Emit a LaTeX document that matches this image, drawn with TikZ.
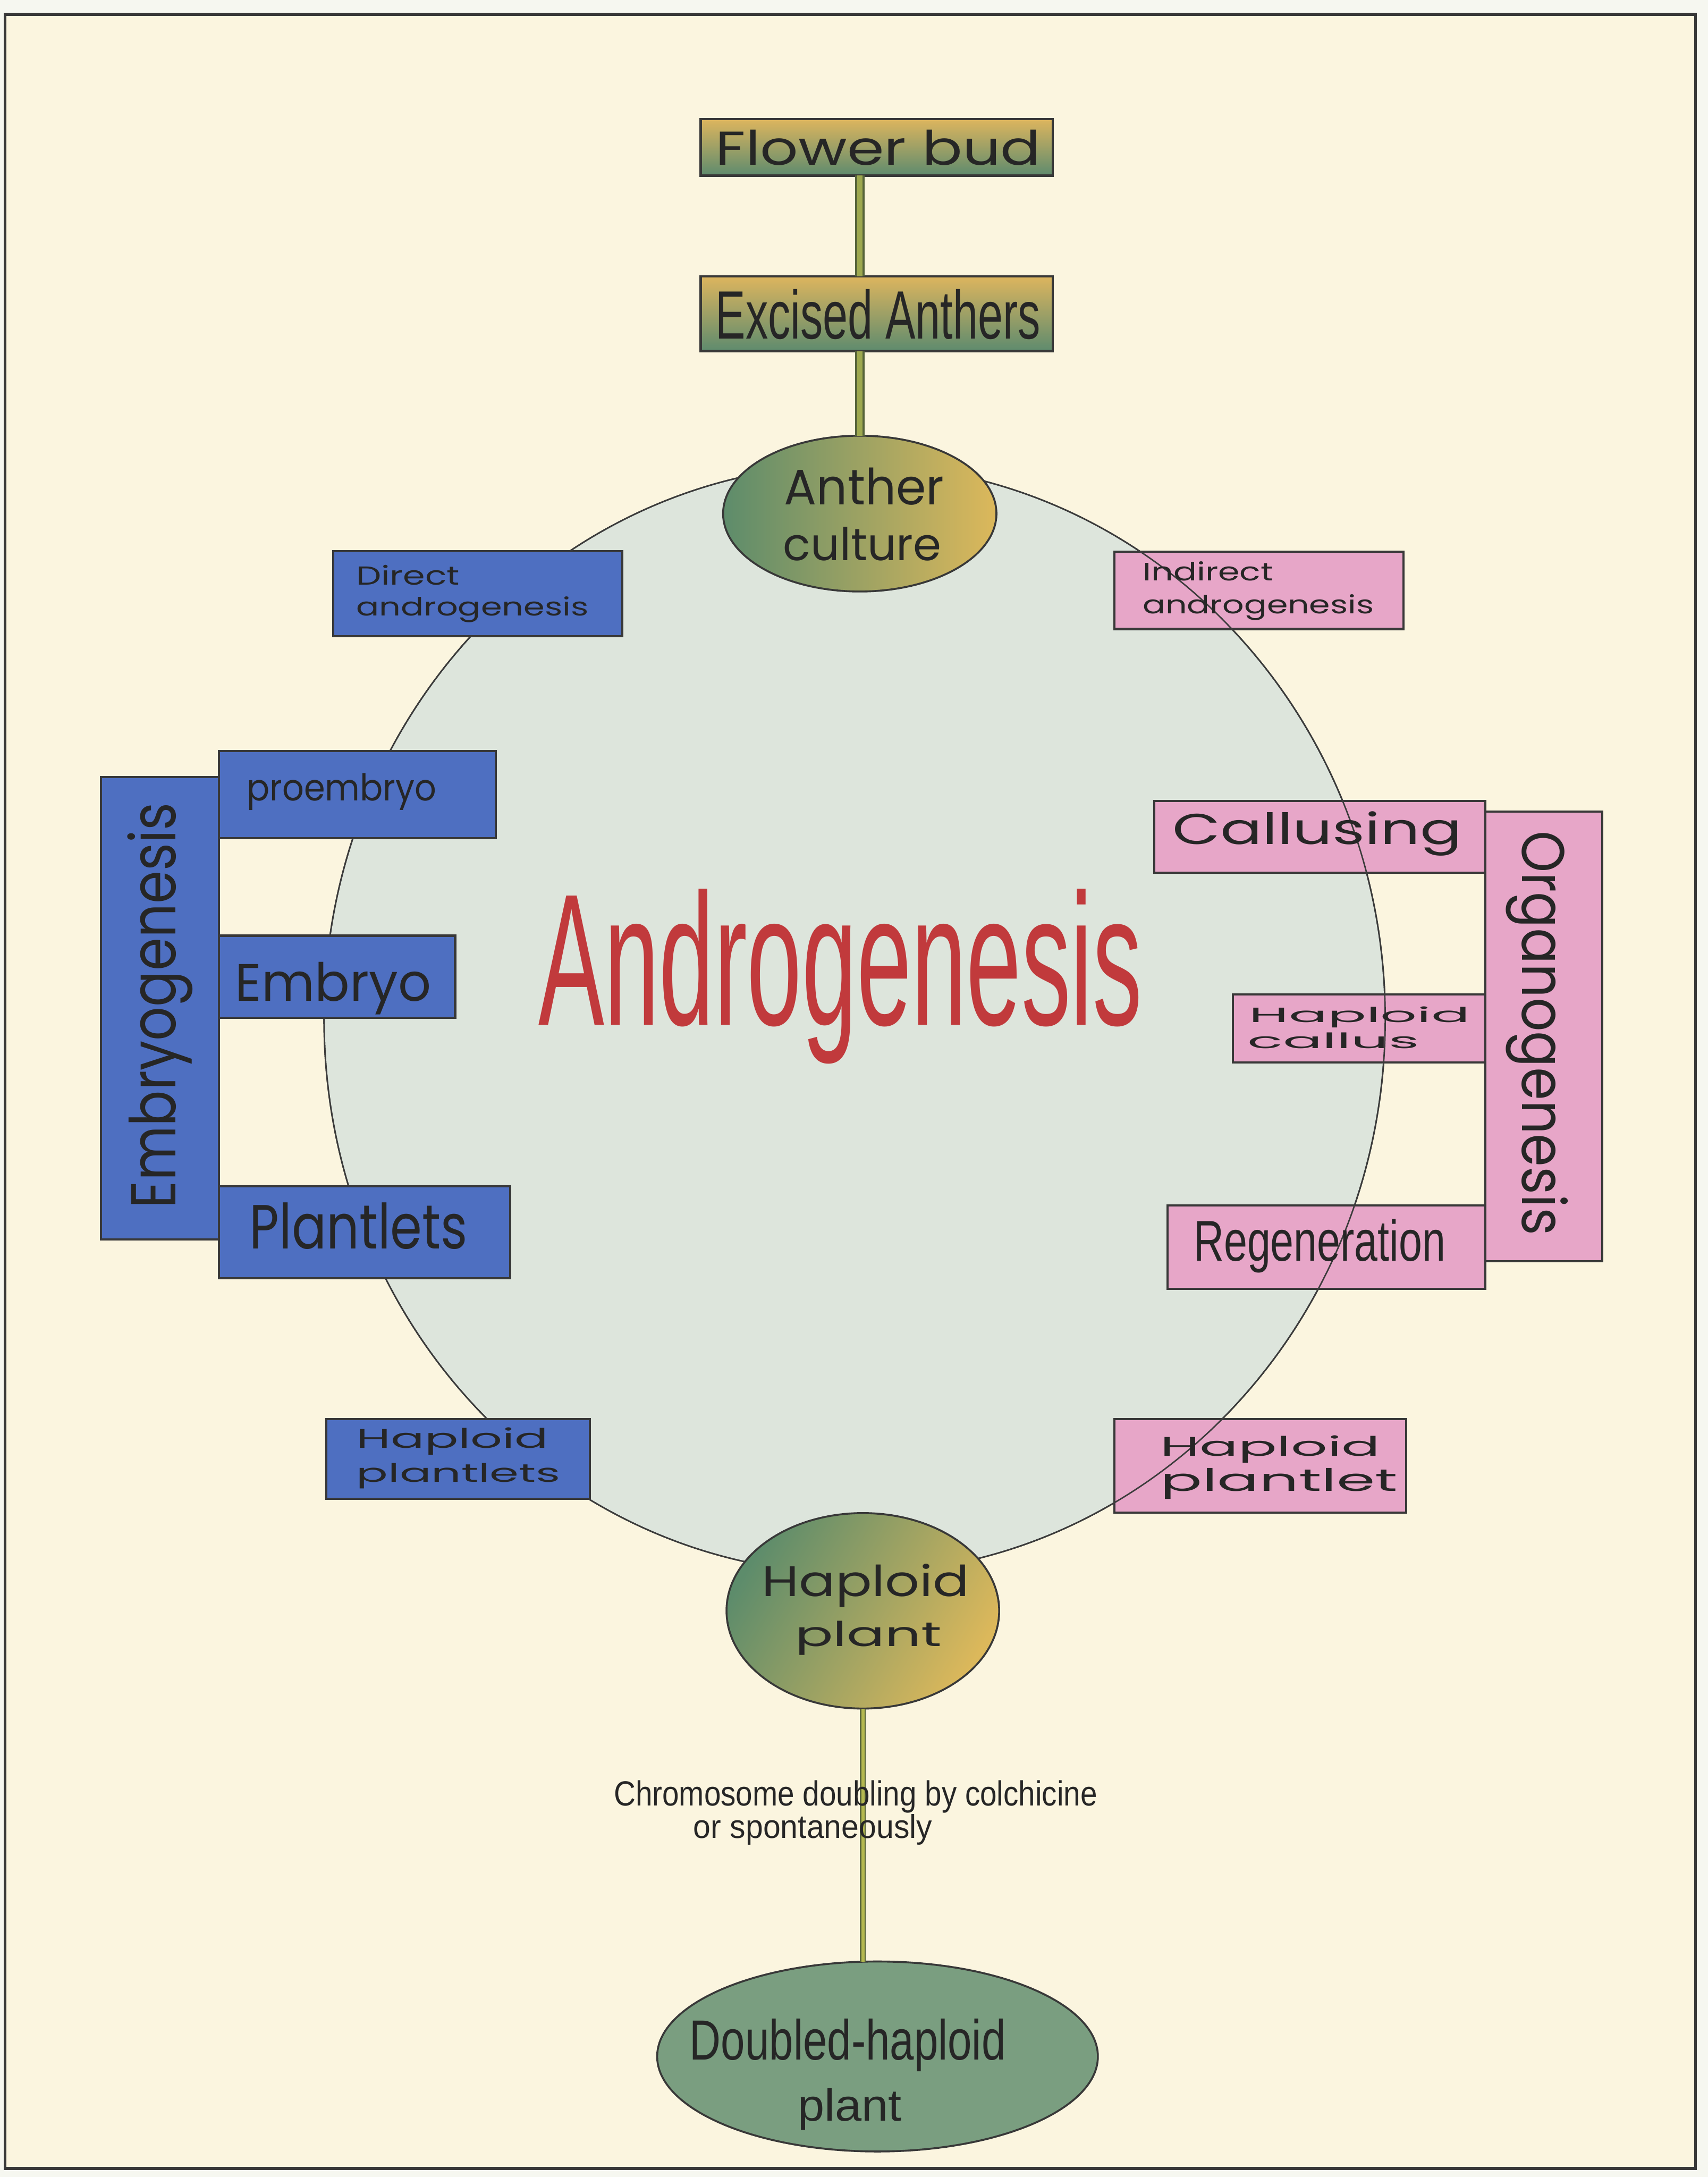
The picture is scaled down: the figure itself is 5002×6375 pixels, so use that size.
\documentclass[tikz,border=0pt]{standalone}
\usepackage{fontspec}
\usepackage{graphicx}
\setmainfont{Liberation Sans}
\newfontfamily\rnd{Poppins}
\newfontfamily\cnd{Liberation Sans}
\usetikzlibrary{shapes.geometric,fit}
\definecolor{outerbg}{HTML}{F6F7F0}
\definecolor{cream}{HTML}{FBF5DF}
\definecolor{circfill}{HTML}{DDE5DC}
\definecolor{circline}{HTML}{3C3C3C}
\definecolor{boxline}{HTML}{383838}
\definecolor{boxblue}{HTML}{4E6FC1}
\definecolor{boxpink}{HTML}{E7A6C8}
\definecolor{gold}{HTML}{DDB55E}
\definecolor{sage}{HTML}{5E8B6E}
\definecolor{acgreen}{HTML}{5D8C6B}
\definecolor{acyellow}{HTML}{DCB85B}
\definecolor{dhfill}{HTML}{7A9E80}
\definecolor{redtext}{HTML}{C13A3C}
\definecolor{textdark}{HTML}{262626}
\definecolor{stemdark}{HTML}{56633A}
\definecolor{stemlight}{HTML}{9DA84F}
\definecolor{stemlow}{HTML}{B4B84F}
\begin{document}
\begin{tikzpicture}[x=0.01cm,y=-0.01cm,
  bluebox/.style={draw=boxline, line width=1.8pt, fill=boxblue, inner sep=0pt, outer sep=0pt},
  pinkbox/.style={draw=boxline, line width=1.8pt, fill=boxpink, inner sep=0pt, outer sep=0pt},
  goldbox/.style={draw=boxline, line width=2pt, top color=gold, bottom color=sage, inner sep=0pt, outer sep=0pt},
  oval/.style={ellipse, draw=boxline, line width=1.6pt, inner sep=0pt, outer sep=0pt},
  txt/.style={inner sep=0pt, outer sep=0pt, text=textdark, anchor=base west},
  stem/.style={draw=stemdark, line width=8pt},
  stemin/.style={draw=stemlight, line width=4.5pt},
]
% page and frame
\fill[outerbg] (0,0) rectangle (5002,6375);
\filldraw[fill=cream, draw=boxline, line width=2.3pt] (15,42) rectangle (4965,6350);
\useasboundingbox (0,0) rectangle (5002,6375);

% big circle
\node[ellipse, fill=circfill, draw=circline, line width=1.2pt, minimum width=31.06cm, minimum height=32.46cm, inner sep=0pt] (circ) at (2503,2984) {};

% pink boxes
\node[pinkbox, fit={(3263,1616) (4110,1842)}] (ia) {};
\node[pinkbox, fit={(4350,2377) (4693,3693)}] (org) {};
\node[pinkbox, fit={(3381,2345) (4350,2555)}] (cal) {};
\node[pinkbox, fit={(3611,2912) (4350,3111)}] (hc) {};
\node[pinkbox, fit={(3420,3530) (4350,3774)}] (reg) {};
\node[pinkbox, fit={(3264,4156) (4118,4430)}] (hpt) {};

% circle outline shows through pink boxes
\node[ellipse, draw=circline, line width=1.2pt, minimum width=31.06cm, minimum height=32.46cm, inner sep=0pt] (circline) at (circ.center) {};

% blue boxes
\node[bluebox, fit={(976,1614) (1822,1863)}] (da) {};
\node[bluebox, fit={(296,2276) (641,3629)}] (emb) {};
\node[bluebox, fit={(641,2199) (1452,2455)}] (pe) {};
\node[bluebox, fit={(641,2740) (1333,2980)}] (em) {};
\node[bluebox, fit={(641,3474) (1494,3743)}] (pl) {};
\node[bluebox, fit={(956,4156) (1727,4389)}] (hps) {};

% top boxes
\node[goldbox, fit={(2052,349) (3083,514)}] (fb) {};
\node[goldbox, fit={(2052,809) (3083,1028)}] (ea) {};

% ellipses
\node[oval, minimum width=8.00cm, minimum height=4.56cm, left color=acgreen, right color=acyellow] (ac) at (2518,1504) {};
\node[oval, minimum width=7.98cm, minimum height=5.72cm, left color=acgreen, right color=acyellow, shading angle=60] (hp) at (2527,4717) {};
\node[oval, minimum width=12.90cm, minimum height=5.56cm, fill=dhfill] (dh) at (2570,6022) {};

% connectors
\draw[stem] (ac.north |- fb.south) -- (ac.north |- ea.north);
\draw[stemin] (ac.north |- fb.south) -- (ac.north |- ea.north);
\draw[stem] (ac.north |- ea.south) -- (ac.north);
\draw[stemin] (ac.north |- ea.south) -- (ac.north);
\draw[draw=stemdark, line width=5pt] (hp.south) -- (hp.south |- dh.north);
\draw[draw=stemlow, line width=2.6pt] (hp.south) -- (hp.south |- dh.north);

% texts
\node[txt] (tfb) at (2096,483) {\resizebox{9.51cm}{1.03cm}{\rnd Flower bud}};
\node[txt] (tea) at (2096,992) {\resizebox{9.51cm}{1.45cm}{\cnd Excised Anthers}};
\node[txt] (tac1) at (2297,1478) {\resizebox{4.67cm}{1.08cm}{\rnd Anther}};
\node[txt] (tac2) at (2294,1641) {\resizebox{4.63cm}{0.98cm}{\rnd culture}};
\node[txt] (tda1) at (1043,1713) {\resizebox{3.03cm}{0.58cm}{\rnd Direct}};
\node[txt] (tda2) at (1043,1803) {\resizebox{6.80cm}{0.56cm}{\rnd androgenesis}};
\node[txt] (tia1) at (3347,1700) {\resizebox{3.82cm}{0.56cm}{\rnd Indirect}};
\node[txt] (tia2) at (3347,1797) {\resizebox{6.76cm}{0.56cm}{\rnd androgenesis}};
\node[txt] (tpe) at (723,2345) {\resizebox{5.55cm}{0.80cm}{\rnd proembryo}};
\node[txt] (tem) at (689,2931) {\resizebox{5.73cm}{1.14cm}{\rnd Embryo}};
\node[txt] (tpl) at (731,3657) {\resizebox{6.38cm}{1.35cm}{\rnd Plantlets}};
\node[txt, rotate=90] (temb) at (515,3538) {\resizebox{11.87cm}{1.41cm}{\rnd Embryogenesis}};
\node[txt] (tcal) at (3434,2473) {\resizebox{8.47cm}{0.96cm}{\rnd Callusing}};
\node[txt] (thc1) at (3659,2994) {\resizebox{6.46cm}{0.46cm}{\rnd Haploid}};
\node[txt] (thc2) at (3654,3070) {\resizebox{5.02cm}{0.46cm}{\rnd callus}};
\node[txt] (treg) at (3496,3693) {\resizebox{7.37cm}{1.22cm}{\cnd Regeneration}};
\node[txt, rotate=-90] (torg) at (4458,2433) {\resizebox{11.83cm}{1.34cm}{\rnd Organogenesis}};
\node[txt] (thps1) at (1044,4240) {\resizebox{5.62cm}{0.60cm}{\rnd Haploid}};
\node[txt] (thps2) at (1044,4340) {\resizebox{5.97cm}{0.55cm}{\rnd plantlets}};
\node[txt] (thpt1) at (3398,4263) {\resizebox{6.44cm}{0.60cm}{\rnd Haploid}};
\node[txt] (thpt2) at (3398,4367) {\resizebox{6.95cm}{0.67cm}{\rnd plantlet}};
\node[txt] (thp1) at (2231,4674) {\resizebox{6.08cm}{0.95cm}{\rnd Haploid}};
\node[txt] (thp2) at (2329,4821) {\resizebox{4.28cm}{0.74cm}{\rnd plant}};
\node[txt] (tch1) at (1798,5288) {\resizebox{14.15cm}{0.74cm}{\cnd Chromosome doubling by colchicine}};
\node[txt] (tch2) at (2031,5382) {\resizebox{6.99cm}{0.70cm}{\cnd or spontaneously}};
\node[txt] (tdh1) at (2020,6032) {\resizebox{9.25cm}{1.20cm}{\cnd Doubled-haploid}};
\node[txt] (tdh2) at (2337,6210) {\resizebox{3.04cm}{0.95cm}{\cnd plant}};
\node[txt, text=redtext] (tand) at (1578,3001) {\resizebox{17.65cm}{3.98cm}{\cnd Androgenesis}};
\end{tikzpicture}
\end{document}
